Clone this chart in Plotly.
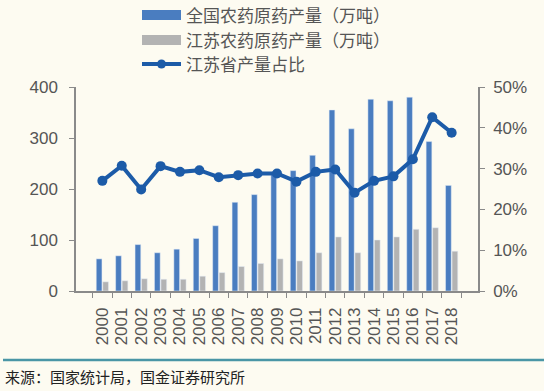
import plotly.graph_objects as go

years = [str(y) for y in range(2000, 2019)]
national = [63, 69, 91, 75, 82, 103, 128, 174, 189, 228, 236, 266, 355, 318, 376, 373, 380, 293, 207]
jiangsu = [18, 20, 24, 23, 23, 29, 36, 48, 54, 63, 59, 75, 106, 75, 100, 106, 121, 124, 78]
share = [0.270, 0.307, 0.249, 0.306, 0.292, 0.296, 0.279, 0.284, 0.288, 0.288, 0.268,
         0.292, 0.298, 0.241, 0.270, 0.281, 0.323, 0.426, 0.388]

name_nat = "全国农药原药产量（万吨）"
name_js = "江苏农药原药产量（万吨）"
name_share = "江苏省产量占比"
source = "来源：国家统计局，国金证券研究所"

BLUE = "#4a7dc0"
GRAY = "#b3b3b3"
LINE = "#1c5ba8"
BG = "#fdfbf1"
TXT = "#555555"
AX = "#8a8a8a"

W, H = 544, 391
L, R, T, B = 76, 66, 87, 100
pw, ph = W - L - R, H - T - B

def px(x):
    return (x - L) / pw

def py(y):
    return (H - B - y) / ph

fig = go.Figure()
fig.add_trace(go.Bar(x=years, y=national, name=name_nat, marker_color=BLUE, showlegend=False))
fig.add_trace(go.Bar(x=years, y=jiangsu, name=name_js, marker_color=GRAY, showlegend=False))
fig.add_trace(go.Scatter(x=years, y=share, name=name_share, yaxis="y2", mode="lines+markers",
                         line=dict(color=LINE, width=4), marker=dict(color=LINE, size=10),
                         showlegend=False))

font = "Liberation Sans, Arial, sans-serif"
cjk = "Noto Sans CJK SC, sans-serif"

shapes = []
annotations = []
legend_rows = [(name_nat, BLUE, 15, "bar"), (name_js, GRAY, 40, "bar"), (name_share, LINE, 64, "line")]
for name, col, yc, kind in legend_rows:
    if kind == "bar":
        shapes.append(dict(type="rect", xref="paper", yref="paper",
                           x0=px(142), x1=px(181), y0=py(yc + 5), y1=py(yc - 5),
                           fillcolor=col, line=dict(width=0)))
    else:
        shapes.append(dict(type="line", xref="paper", yref="paper",
                           x0=px(142), x1=px(181), y0=py(yc), y1=py(yc),
                           line=dict(color=col, width=4)))
        shapes.append(dict(type="circle", xref="paper", yref="paper",
                           x0=px(157), x1=px(166), y0=py(yc + 4.5), y1=py(yc - 4.5),
                           fillcolor=col, line=dict(width=0)))
    annotations.append(dict(text=name, xref="paper", yref="paper", x=px(184), y=py(yc),
                            xanchor="left", yanchor="middle", showarrow=False,
                            font=dict(family=cjk, size=17, color=TXT)))

shapes.append(dict(type="line", xref="paper", yref="paper", x0=px(3), x1=px(544),
                   y0=py(360), y1=py(360), line=dict(color="#4a96a6", width=2.5)))
annotations.append(dict(text=source, xref="paper", yref="paper", x=px(3), y=py(376),
                        xanchor="left", yanchor="middle", showarrow=False,
                        font=dict(family=cjk, size=15, color="#222222")))

fig.update_layout(
    width=W, height=H,
    margin=dict(l=L, r=R, t=T, b=B),
    paper_bgcolor=BG, plot_bgcolor=BG,
    barmode="group", bargap=0.33, bargroupgap=0.12,
    font=dict(family=font, size=16, color=TXT),
    hovermode=False,
    xaxis=dict(type="category", tickangle=-90, showline=True, linecolor=AX, linewidth=1.5,
               tickmode="array", tickvals=years, ticktext=years,
               ticks="outside", tickson="boundaries", ticklen=5, tickcolor=AX,
               ticklabelstandoff=8,
               showgrid=False, tickfont=dict(size=17, color=TXT)),
    yaxis=dict(range=[0, 400], dtick=100, showline=True, linecolor=AX, linewidth=1.5,
               ticks="outside", ticklen=5, tickcolor=AX, showgrid=False, zeroline=False,
               ticklabelstandoff=8,
               tickfont=dict(size=17, color=TXT)),
    yaxis2=dict(range=[0, 0.5], dtick=0.1, tickformat=".0%", overlaying="y", side="right",
                showline=True, linecolor=AX, linewidth=1.5, ticks="outside", ticklen=5,
                tickcolor=AX, showgrid=False, zeroline=False, ticklabelstandoff=5,
                tickfont=dict(size=17, color=TXT)),
    shapes=shapes, annotations=annotations,
)

fig.write_html("out.html", config={"displayModeBar": False},
               post_script="document.body.style.margin='0';document.body.style.background='%s';" % BG)
